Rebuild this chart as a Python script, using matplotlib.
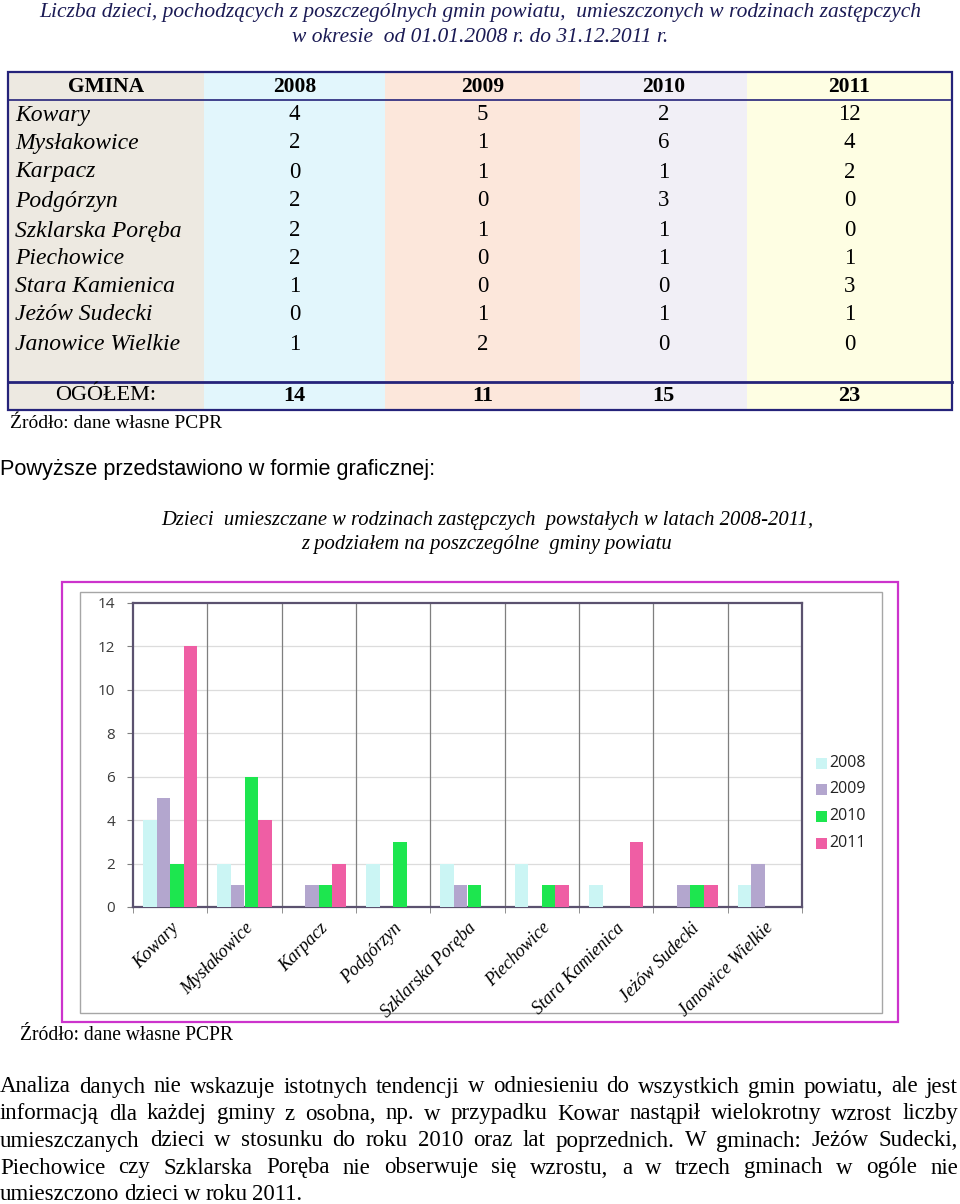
"""
Dzieci w rodzinach zastępczych wg gmin powiatu, 2008-2011
Tabela + wykres słupkowy + opis
"""
import matplotlib
matplotlib.use('Agg')
import matplotlib.pyplot as plt
from matplotlib.patches import Rectangle

# dane
gminy = ['Kowary', 'Mysłakowice', 'Karpacz', 'Podgórzyn', 'Szklarska Poręba',
         'Piechowice', 'Stara Kamienica', 'Jeżów Sudecki', 'Janowice Wielkie']
lata = ['2008', '2009', '2010', '2011']
v2008 = [4, 2, 0, 2, 2, 2, 1, 0, 1]
v2009 = [5, 1, 1, 0, 1, 0, 0, 1, 2]
v2010 = [2, 6, 1, 3, 1, 1, 0, 1, 0]
v2011 = [12, 4, 2, 0, 0, 1, 3, 1, 0]
serie = [v2008, v2009, v2010, v2011]
y_ticks = [0, 2, 4, 6, 8, 10, 12, 14]

kolory_slupkow = ['#CBF5F4', '#B3A6CE', '#1DE64F', '#EF5EA4']
kolory_kolumn = ['#EDE9E1', '#E2F6FC', '#FCE7DB', '#F1EFF6', '#FEFEE3']

tytul = ['Liczba dzieci, pochodzących z poszczególnych gmin powiatu,  umieszczonych w rodzinach zastępczych',
         'w okresie  od 01.01.2008 r. do 31.12.2011 r.']
tytul_wykresu = ['Dzieci  umieszczane w rodzinach zastępczych  powstałych w latach 2008-2011,',
                 'z podziałem na poszczególne  gminy powiatu']
akapit = ['Analiza danych nie wskazuje istotnych tendencji w odniesieniu do wszystkich gmin powiatu, ale jest',
          'informacją dla każdej gminy z osobna, np. w przypadku Kowar nastąpił wielokrotny wzrost liczby',
          'umieszczanych dzieci w  stosunku do roku 2010 oraz lat poprzednich.  W gminach: Jeżów Sudecki,',
          'Piechowice czy Szklarska Poręba nie obserwuje się wzrostu, a w trzech gminach w ogóle nie',
          'umieszczono dzieci w roku 2011.']

SERIF = 'Liberation Serif'
W, H = 960, 1204
fig = plt.figure(figsize=(W / 100, H / 100), dpi=100)
fig.patch.set_facecolor('white')

# strona w pikselach (y w dół)
pg = fig.add_axes([0, 0, 1, 1])
pg.set_xlim(0, W)
pg.set_ylim(H, 0)
pg.axis('off')

# tytuł
for i, line in enumerate(tytul):
    pg.text(480, 13 + 24 * i, line, ha='center', va='center', family=SERIF,
            style='italic', fontsize=15.5, color='#1b1b55')

# tabela
kol_x = [8, 204, 385, 580, 747, 952]
t_top, t_head, t_sep, t_bot = 72, 100, 382, 410
for c in range(5):
    pg.add_patch(Rectangle((kol_x[c], t_top), kol_x[c + 1] - kol_x[c], t_bot - t_top,
                           facecolor=kolory_kolumn[c], edgecolor='none', zorder=1))
pg.add_patch(Rectangle((kol_x[0], t_top), kol_x[-1] - kol_x[0], t_bot - t_top,
                       facecolor='none', edgecolor='#25237A', lw=1.6, zorder=3))
pg.plot([kol_x[0], kol_x[-1]], [t_head, t_head], color='#25237A', lw=1.2, zorder=3)
pg.plot([kol_x[0], kol_x[-1]], [t_sep, t_sep], color='#25237A', lw=2.0, zorder=3)

srodki = [(kol_x[c] + kol_x[c + 1]) / 2 for c in range(5)]
pg.text(srodki[0], 87, 'GMINA', ha='center', va='center', family=SERIF,
        weight='bold', fontsize=15.5, zorder=4)
for c, rok in enumerate(lata):
    pg.text(srodki[c + 1], 87, rok, ha='center', va='center', family=SERIF,
            weight='bold', fontsize=15.5, zorder=4)

wiersze_y = [115, 143, 172, 201, 231, 259, 287, 315, 345]
for r, g in enumerate(gminy):
    pg.text(15, wiersze_y[r], g, ha='left', va='center', family=SERIF,
            style='italic', fontsize=17, zorder=4)
    for c, s in enumerate(serie):
        pg.text(srodki[c + 1], wiersze_y[r], str(s[r]), ha='center', va='center',
                family=SERIF, fontsize=16.5, zorder=4)

pg.text(srodki[0], 396, 'OGÓŁEM:', ha='center', va='center', family=SERIF,
        fontsize=16, zorder=4)
for c, s in enumerate(serie):
    pg.text(srodki[c + 1], 396, str(sum(s)), ha='center', va='center', family=SERIF,
            weight='bold', fontsize=16, zorder=4)

pg.text(10, 424, 'Źródło: dane własne PCPR', ha='left', va='center', family=SERIF,
        fontsize=14)
pg.text(0, 470, 'Powyższe przedstawiono w formie graficznej:', ha='left', va='center',
        family='Liberation Sans', fontsize=15.6)

for i, line in enumerate(tytul_wykresu):
    pg.text(487, 520 + 25 * i, line, ha='center', va='center', family=SERIF,
            style='italic', fontsize=14.9)

# ramki wykresu
pg.add_patch(Rectangle((62, 582), 898 - 62, 1022 - 582, facecolor='none',
                       edgecolor='#CC33CC', lw=1.6))
pg.add_patch(Rectangle((80, 592), 882 - 80, 1013 - 592, facecolor='none',
                       edgecolor='#A6A6A6', lw=1.0))

# wykres
ax = fig.add_axes([133 / W, 1 - 907 / H, 669 / W, 304 / H])
n = len(gminy)
szer = 0.182
for k, (s, kol) in enumerate(zip(serie, kolory_slupkow)):
    xs = [i + (k - 1.5) * szer for i in range(n)]
    ax.bar(xs, s, width=szer, color=kol, edgecolor='none', zorder=3)

ax.set_xlim(-0.5, n - 0.5)
ax.set_ylim(0, 14)
ax.set_yticks(y_ticks)
ax.set_yticklabels([str(t) for t in y_ticks], family='Open Sans', fontsize=11,
                   color='#3A3A3A')
for t in y_ticks[1:-1]:
    ax.axhline(t, color='#DCDCDC', lw=0.9, zorder=1)
for k in range(n - 1):
    ax.axvline(k + 0.5, color='#7F7F7F', lw=0.9, zorder=2)

ax.set_xticks(range(n))
ax.set_xticklabels(gminy, rotation=45, ha='right', rotation_mode='anchor',
                   family=SERIF, style='italic', fontsize=13)
ax.tick_params(axis='x', which='major', length=0, pad=9)
ax.set_xticks([k + 0.5 for k in range(-1, n)], minor=True)
ax.tick_params(axis='x', which='minor', length=4, color='#7F7F7F', direction='out')
ax.tick_params(axis='y', length=4, color='#7F7F7F', pad=9)
for sp in ax.spines.values():
    sp.set_color('#5B526F')
    sp.set_linewidth(1.6)

# legenda
leg_y = [763, 789, 816, 843]
for rok, kol, y in zip(lata, kolory_slupkow, leg_y):
    pg.add_patch(Rectangle((816, y - 5.5), 11, 11, facecolor=kol, edgecolor='none'))
    pg.text(829, y, rok, ha='left', va='center', family='Open Sans', fontsize=11.5,
            color='#222222')

pg.text(20, 1035, 'Źródło: dane własne PCPR', ha='left', va='center', family=SERIF,
        fontsize=14.1)

# akapit wyjustowany
r = fig.canvas.get_renderer()
akapit_y = [1087, 1114, 1141, 1168, 1195]
for i, line in enumerate(akapit):
    words = line.split()
    ts = [pg.text(0, akapit_y[i], w, ha='left', va='center', family=SERIF,
                  fontsize=16.5) for w in words]
    if i == len(akapit) - 1:
        gap = 5
    else:
        widths = [t.get_window_extent(r).width for t in ts]
        gap = (958 - sum(widths)) / (len(words) - 1)
    x = 0
    for t in ts:
        t.set_x(x)
        x += t.get_window_extent(r).width + gap

fig.savefig('out.png', dpi=100)
